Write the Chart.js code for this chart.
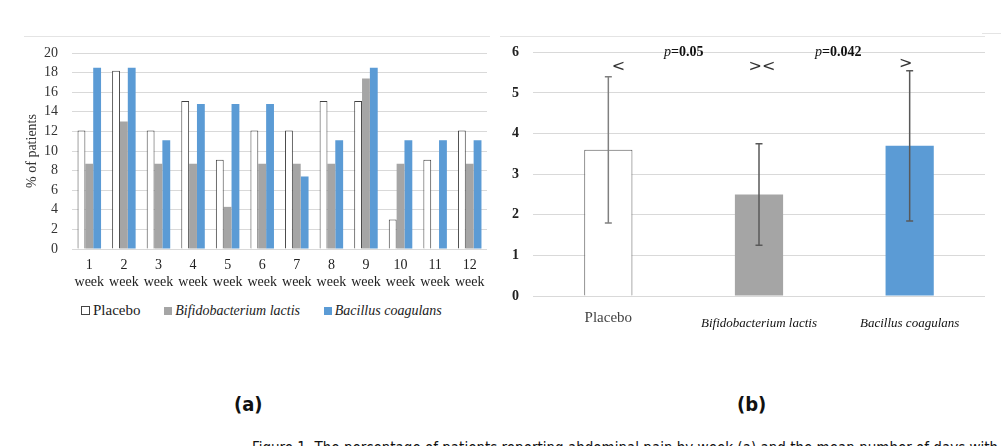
<!DOCTYPE html>
<html>
<head>
<meta charset="utf-8">
<script src="https://cdn.jsdelivr.net/npm/chart.js@4.4.1/dist/chart.umd.min.js"></script>
<style>
  html, body { margin: 0; padding: 0; background: #fff; overflow: hidden; }
  body { width: 1001px; height: 446px; position: relative; font-family: "Liberation Serif", serif; }
  canvas { position: absolute; }
  .rule { position: absolute; height: 0; border-top: 1px solid #e4e4e4; }
  .legend { position: absolute; top: 301px; left: 81px; font-size: 15px; color: #222; white-space: nowrap; }
  .legend span { display: inline-block; vertical-align: middle; }
  .legend i { font-size: 14px; }
  .sw { width: 8px; height: 8px; margin-right: 3px; }
  .panel { position: absolute; top: 392px; font-family: "DejaVu Sans Condensed", "DejaVu Sans", sans-serif; font-weight: bold; font-size: 20px; color: #111; }
  .caption { position: absolute; top: 439px; left: 252px; font-family: "DejaVu Sans Condensed", "DejaVu Sans", sans-serif; font-size: 15px; color: #111; white-space: nowrap; }
</style>
</head>
<body>
<div class="rule" style="left:24px; top:36px; width:466px;"></div>
<div class="rule" style="left:500px; top:36px; width:485px;"></div>
<div class="rule" style="left:982px; top:33px; width:19px;"></div>

<canvas id="weekChart" width="500" height="270" style="left:0; top:30px;"></canvas>
<canvas id="meanChart" width="506" height="310" style="left:495px; top:30px;"></canvas>

<div class="legend">
  <span class="sw" style="background:#fff; border:1px solid #444; width:7px; height:7px;"></span><span style="margin-right:20px;">Placebo</span>
  <span class="sw" style="background:#a5a5a5;"></span><span style="margin-right:20px;"><i>Bifidobacterium lactis</i></span>
  <span class="sw" style="background:#5b9bd5;"></span><span><i>Bacillus coagulans</i></span>
</div>

<div class="panel" style="left:234px;">(a)</div>
<div class="panel" style="left:737px;">(b)</div>
<div class="caption">Figure 1. The percentage of patients reporting abdominal pain by week (a) and the mean number of days with pain (b)</div>

<script>
// (a) weekly percentages
const weeks = ['1', '2', '3', '4', '5', '6', '7', '8', '9', '10', '11', '12'];
const placeboPct = [12.1, 18.2, 12.1, 15.1, 9.1, 12.1, 12.1, 15.1, 15.1, 3.0, 9.1, 12.1];
const bifidoPct = [8.7, 13.0, 8.7, 8.7, 4.3, 8.7, 8.7, 8.7, 17.4, 8.7, 0, 8.7];
const bacillusPct = [18.5, 18.5, 11.1, 14.8, 14.8, 14.8, 7.4, 11.1, 18.5, 11.1, 11.1, 11.1];

// (b) means with error
const groups = ['Placebo', 'Bifidobacterium lactis', 'Bacillus coagulans'];
const meanValues = [3.6, 2.5, 3.7];
const errValues = [1.8, 1.25, 1.85];
const pLabels = ['0.05', '0.042'];

const serif = 'Liberation Serif';

const weekCtx = document.getElementById('weekChart').getContext('2d');
new Chart(weekCtx, {
  type: 'bar',
  data: {
    labels: weeks.map(w => [w, 'week']),
    datasets: [{
      label: 'Placebo',
      data: placeboPct,
      backgroundColor: '#ffffff',
      borderColor: '#404040',
      borderWidth: 1
    }, {
      label: 'Bifidobacterium lactis',
      data: bifidoPct,
      backgroundColor: '#a5a5a5'
    }, {
      label: 'Bacillus coagulans',
      data: bacillusPct,
      backgroundColor: '#5b9bd5'
    }]
  },
  options: {
    responsive: false,
    animation: false,
    layout: { padding: { left: 24, right: 13, top: 23, bottom: 0 } },
    datasets: { bar: { categoryPercentage: 0.68, barPercentage: 1.0 } },
    plugins: { legend: { display: false }, tooltip: { enabled: false } },
    scales: {
      x: {
        grid: { display: false },
        border: { display: false },
        ticks: { color: '#222', padding: 0, maxRotation: 0, autoSkip: false, font: { family: serif, size: 14, lineHeight: 1.2 } },
        afterFit: s => { s.height = 51; }
      },
      y: {
        min: 0, max: 20,
        ticks: { stepSize: 2, autoSkip: false, maxTicksLimit: 30, color: '#333', padding: 14, font: { family: serif, size: 14, lineHeight: 1 } },
        grid: { color: '#d9d9d9', drawTicks: false },
        border: { display: false },
        title: { display: true, text: '% of patients', color: '#333', font: { family: serif, size: 14 }, padding: 0 },
        afterFit: s => { s.width = 48; }
      }
    }
  }
});

const errorBars = {
  id: 'errorBars',
  afterDatasetsDraw(chart) {
    const c = chart.ctx, xs = chart.scales.x, ys = chart.scales.y;
    c.save();
    c.lineWidth = 1.5;
    meanValues.forEach((m, i) => {
      const x = xs.getPixelForValue(i);
      const top = ys.getPixelForValue(m + errValues[i]);
      const bot = ys.getPixelForValue(m - errValues[i]);
      c.strokeStyle = i === 0 ? '#808080' : '#595959';
      c.beginPath();
      c.moveTo(x, top); c.lineTo(x, bot);
      c.moveTo(x - 3.5, top); c.lineTo(x + 3.5, top);
      c.moveTo(x - 3.5, bot); c.lineTo(x + 3.5, bot);
      c.stroke();
    });

    // significance labels between groups
    c.fillStyle = '#111';
    c.textBaseline = 'middle';
    const yp = ys.getPixelForValue(6);
    pLabels.forEach((p, i) => {
      const mid = (xs.getPixelForValue(i) + xs.getPixelForValue(i + 1)) / 2 + (i === 1 ? 4 : 0);
      c.font = 'italic 14px ' + serif;
      const w1 = c.measureText('p').width;
      c.font = 'bold 14px ' + serif;
      const w2 = c.measureText('=' + p).width;
      const x0 = mid - (w1 + w2) / 2;
      c.textAlign = 'left';
      c.font = 'italic 14px ' + serif;
      c.fillText('p', x0, yp);
      c.font = 'bold 14px ' + serif;
      c.fillText('=' + p, x0 + w1, yp);
    });
    c.font = '16px "DejaVu Sans"';
    c.textAlign = 'center';
    c.fillStyle = '#333';
    const yb = ys.getPixelForValue(5.65);
    c.fillText('<', xs.getPixelForValue(0) + 10, yb);
    c.fillText('><', xs.getPixelForValue(1) + 3, yb);
    c.fillText('>', xs.getPixelForValue(2) - 4, ys.getPixelForValue(5.72));
    c.restore();
  }
};

const meanCtx = document.getElementById('meanChart').getContext('2d');
new Chart(meanCtx, {
  type: 'bar',
  data: {
    labels: groups,
    datasets: [{
      data: meanValues,
      backgroundColor: ['#ffffff', '#a5a5a5', '#5b9bd5'],
      borderColor: ['#595959', '#a5a5a5', '#5b9bd5'],
      borderWidth: [1, 0, 0],
      categoryPercentage: 1.0,
      barPercentage: 0.32
    }]
  },
  plugins: [errorBars],
  options: {
    responsive: false,
    animation: false,
    layout: { padding: { left: 0, right: 16, top: 21, bottom: 0 } },
    plugins: { legend: { display: false }, tooltip: { enabled: false } },
    scales: {
      x: {
        grid: { display: false },
        border: { display: false },
        ticks: {
          padding: 5,
          maxRotation: 0,
          color: ctx => ctx.index === 0 ? '#444' : '#111',
          font: ctx => ctx.index === 0
            ? { family: serif, size: 15, lineHeight: 1.2 }
            : { family: serif, size: 13, style: 'italic', lineHeight: 2.2 }
        },
        afterFit: s => { s.height = 44; }
      },
      y: {
        min: 0, max: 6,
        ticks: { stepSize: 1, color: '#222', padding: 14, font: { family: serif, size: 14, weight: 'bold' } },
        grid: { color: '#d9d9d9', drawTicks: false },
        border: { display: false },
        afterFit: s => { s.width = 38; }
      }
    }
  }
});
</script>
</body>
</html>
